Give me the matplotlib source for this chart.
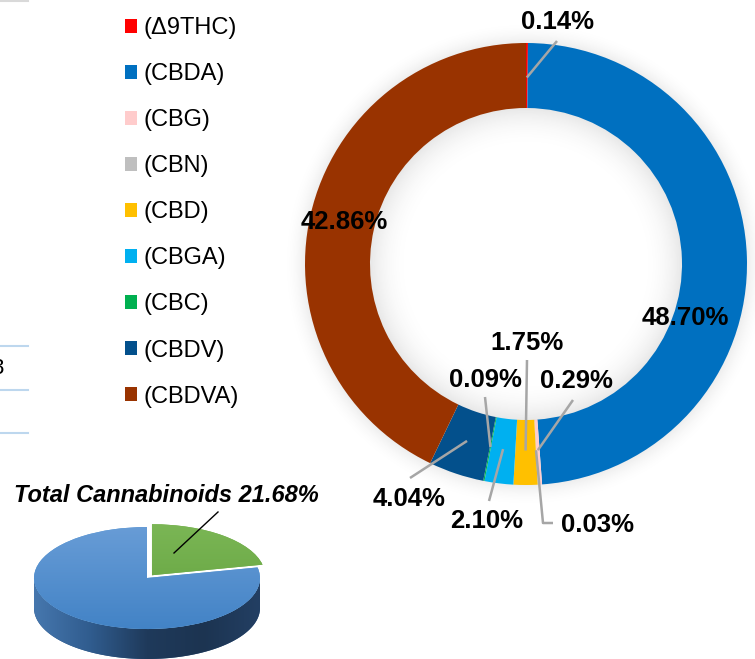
import matplotlib
matplotlib.use("Agg")
import matplotlib.pyplot as plt
import numpy as np
from matplotlib.colors import LinearSegmentedColormap
from matplotlib.patches import Patch, Polygon
from matplotlib.transforms import Affine2D

plt.rcParams['font.family'] = ['Liberation Sans', 'DejaVu Sans']

# Donut data (percent of cannabinoid content)
compounds = ['(Δ9THC)', '(CBDA)', '(CBG)', '(CBN)', '(CBD)', '(CBGA)', '(CBC)', '(CBDV)', '(CBDVA)']
shares = [0.14, 48.70, 0.29, 0.03, 1.75, 2.10, 0.09, 4.04, 42.86]
colors = ['#FF0000', '#0070C0', '#FFCCCC', '#BFBFBF', '#FFC000', '#00B0F0', '#00B050', '#03508C', '#993300']

# Small 3D pie data
total_labels = ['Total Cannabinoids', 'Other']
total_shares = [21.68, 78.32]

W, H = 755, 659
fig = plt.figure(figsize=(W / 100, H / 100), dpi=100)
ax = fig.add_axes([0, 0, 1, 1])


def px(x, y):
    # pixel position measured from the top-left corner -> data coords
    return x, H - y


def gradient_image(stops, extent, vertical=True, zorder=3):
    cmap = LinearSegmentedColormap.from_list('g', stops)
    g = np.linspace(0, 1, 256)
    arr = g[:, None] * np.ones((1, 8)) if vertical else g[None, :] * np.ones((8, 1))
    return ax.imshow(arr, cmap=cmap, extent=extent, origin='lower', aspect='auto',
                     interpolation='bilinear', zorder=zorder)


# ---- donut ----
cx, cy = px(526, 264)
R, ring = 221, 65
ri = R - ring

# soft outer / inner shadow
n = 500
ext = R + 22
xs = np.linspace(-ext, ext, n)
X, Y = np.meshgrid(xs, xs)
rr = np.hypot(X, Y)
shadow = np.zeros((n, n, 4))
shadow[..., :3] = 0.55
outer = np.where(rr > R - 2, np.clip(1 - (rr - R) / 22, 0, 1) ** 2 * 0.16, 0)
inner = np.where(rr < ri + 2, np.clip((rr - (ri - 40)) / 40, 0, 1) ** 2.2 * 0.20, 0)
shadow[..., 3] = outer + inner
ax.imshow(shadow, extent=(cx - ext, cx + ext, cy - ext, cy + ext), origin='lower',
          interpolation='bilinear', zorder=1)

wedges, _ = ax.pie(shares, colors=colors, startangle=90, counterclock=False,
                   radius=R, center=(cx, cy),
                   wedgeprops=dict(width=ring, linewidth=0))
for w in wedges:
    w.set_zorder(2)

# label layout: text centre, leader path end (pixels from top-left)
label_text = {0: (557, 22), 1: (685, 318), 2: (576, 381), 3: (598, 525), 4: (527, 343),
              5: (487, 521), 6: (485, 380), 7: (409, 499), 8: (344, 222)}
leader_end = {0: [(557, 41)], 2: [(573, 400)], 3: [(543, 523), (553, 523)],
              4: [(527, 360)], 5: [(489, 501)], 6: [(485, 397)], 7: [(410, 478)]}

for i, w in enumerate(wedges):
    tx, ty = px(*label_text[i])
    ax.text(tx, ty, f"{shares[i]:.2f}%", ha='center', va='center',
            fontsize=18.5, fontweight='bold', color='black', zorder=6)
    if i in leader_end:
        mid = np.deg2rad((w.theta1 + w.theta2) / 2)
        rm = R - ring / 2 - 2
        pts = [(cx + rm * np.cos(mid), cy + rm * np.sin(mid))] + [px(*p) for p in leader_end[i]]
        xx, yy = zip(*pts)
        ax.plot(xx, yy, color='#A6A6A6', lw=1.8, zorder=5, solid_capstyle='butt')

# legend
handles = [Patch(facecolor=c, edgecolor='none') for c in colors]
ax.legend(handles, compounds, loc='upper left', bbox_to_anchor=(125 / W, 1 - 17 / H),
          frameon=False, fontsize=17, handlelength=0.52, handleheight=0.52,
          handletextpad=0.25, labelspacing=1.02, borderpad=0, borderaxespad=0)

# ---- 3D pie ----
pcx, pcy = px(147, 578)
pa, pb, depth = 113, 51, 30

t = np.linspace(np.pi, 2 * np.pi, 200)
top_edge = np.column_stack([pcx + pa * np.cos(t), pcy + pb * np.sin(t)])
bot_edge = top_edge[::-1] - [0, depth]
side = Polygon(np.vstack([top_edge, bot_edge]), closed=True, facecolor='#2B5382',
               edgecolor='none', zorder=2)
ax.add_patch(side)
im = gradient_image(['#4677AE', '#305C8E', '#1F3A5B', '#1C3451', '#233F63'],
                    (pcx - pa, pcx + pa, pcy - pb - depth, pcy), vertical=False)
im.set_clip_path(side)

# explode is given in data units (the pie is drawn with radius pa)
pie_w, _ = ax.pie(total_shares, colors=['#70AD47', '#5B9BD5'], startangle=90,
                  counterclock=False, radius=pa, center=(0, 0), explode=[0.07 * pa, 0],
                  wedgeprops=dict(linewidth=0))
squash = Affine2D().scale(1, pb / pa).translate(pcx, pcy) + ax.transData
tops = [['#5E9E3A', '#7DB857'], ['#3E80C4', '#6C9FD8']]
for w, stops in zip(pie_w, tops):
    w.set_transform(squash)
    w.set_zorder(3)
    img = gradient_image(stops, (pcx - pa - 10, pcx + pa + 10, pcy - pb - 12, pcy + pb + 12), zorder=4)
    img.set_clip_path(w)

ax.text(*px(166, 495), f"{total_labels[0]} {total_shares[0]:.2f}%", ha='center', va='center',
        fontsize=17, fontweight='bold', fontstyle='italic', zorder=6)
lx, ly = zip(px(218, 512), px(174, 553))
ax.plot(lx, ly, color='black', lw=1, zorder=6)

# remnants of the neighbouring table at the left edge
for yl in [346, 390, 433]:
    ax.plot([0, 28], [H - yl, H - yl], color='#BDD7EE', lw=1.5)
ax.plot([0, 28], [H - 1, H - 1], color='#D9D9D9', lw=1.5)
ax.text(3, H - 368, '3', ha='right', va='center', fontsize=16)

ax.set_xlim(0, W)
ax.set_ylim(0, H)
ax.set_aspect('auto')
ax.axis('off')
fig.savefig('out.png', dpi=100)
